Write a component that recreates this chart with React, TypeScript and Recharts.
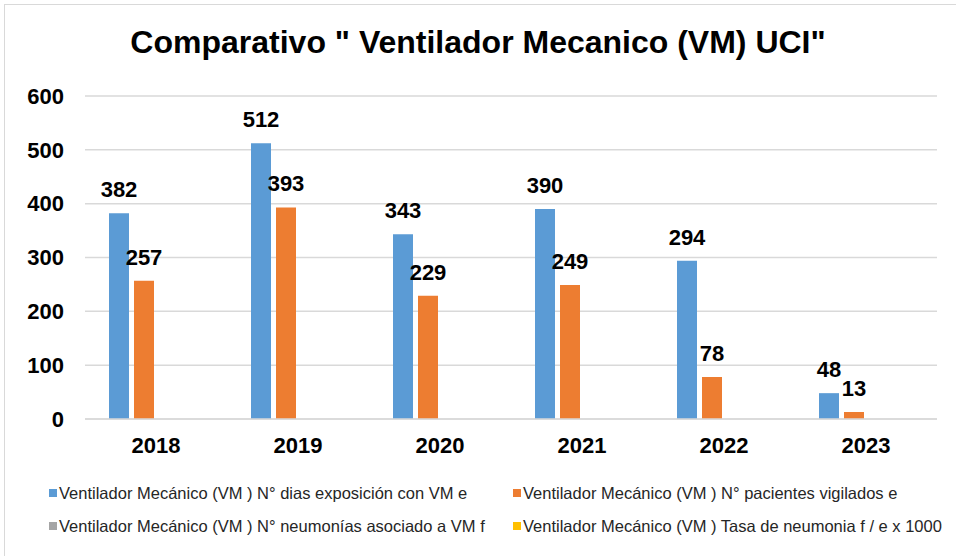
import React from 'react';
import { BarChart, Bar, XAxis, YAxis, CartesianGrid, LabelList } from 'recharts';

const years = ['2018', '2019', '2020', '2021', '2022', '2023'];
const diasExposicion = [382, 512, 343, 390, 294, 48];
const pacientesVigilados = [257, 393, 229, 249, 78, 13];
const neumonias = [0, 0, 0, 0, 0, 0];
const tasaNeumonia = [0, 0, 0, 0, 0, 0];
const yTicks = [0, 100, 200, 300, 400, 500, 600];

const seriesInfo = [
  { key: 'e', name: 'Ventilador Mecánico (VM ) N° dias exposición con VM e', color: '#5b9bd5' },
  { key: 'p', name: 'Ventilador Mecánico (VM ) N° pacientes vigilados e', color: '#ed7d31' },
  { key: 'n', name: 'Ventilador Mecánico (VM ) N° neumonías asociado a VM f', color: '#a5a5a5' },
  { key: 't', name: 'Ventilador Mecánico (VM ) Tasa de neumonia f / e x 1000', color: '#ffc000' },
];

const data = years.map((y, i) => ({
  year: y,
  e: diasExposicion[i],
  p: pacientesVigilados[i],
  n: neumonias[i],
  t: tasaNeumonia[i],
}));

const font = 'Arial, "Liberation Sans", sans-serif';
const labelProps = { position: 'top' as const, offset: 16, fill: '#000', fontSize: 22, fontWeight: 'bold', fontFamily: font };

// legend items laid out as 2 x 2 grid, like the spreadsheet export
const legendPos = [
  { left: 49, top: 483 },
  { left: 513, top: 483 },
  { left: 49, top: 516 },
  { left: 513, top: 516 },
];

const App: React.FC = () => {
  return (
    <div style={{ position: 'fixed', left: 0, top: 0, width: 956, height: 556, background: '#fff', overflow: 'hidden', fontFamily: font }}>
      <div style={{ position: 'absolute', left: 4, top: 4, width: 1000, height: 600, border: '1px solid #d9d9d9' }} />
      <div style={{ position: 'absolute', left: 0, width: 956, top: 20, textAlign: 'center', fontSize: 32, fontWeight: 'bold', color: '#000', lineHeight: '44px' }}>
        Comparativo " Ventilador Mecanico (VM) UCI"
      </div>
      <div style={{ position: 'absolute', left: 0, top: 0 }}>
        <BarChart
          width={956}
          height={556}
          data={data}
          margin={{ top: 96, right: 19, left: 0, bottom: 97 }}
          barSize={20}
          barGap={5}
        >
          <CartesianGrid vertical={false} stroke="#d9d9d9" strokeWidth={1.5} />
          <XAxis
            dataKey="year"
            axisLine={{ stroke: '#d9d9d9', strokeWidth: 1.5 }}
            tickLine={false}
            tickMargin={12}
            height={40}
            tick={{ fill: '#000', fontSize: 22, fontWeight: 'bold', fontFamily: font }}
          />
          <YAxis
            width={85}
            domain={[0, 600]}
            ticks={yTicks}
            axisLine={false}
            tickLine={false}
            tickMargin={15}
            tick={{ fill: '#000', fontSize: 22, fontWeight: 'bold', fontFamily: font }}
          />
          <Bar dataKey="e" fill={seriesInfo[0].color} isAnimationActive={false}>
            <LabelList dataKey="e" {...labelProps} />
          </Bar>
          <Bar dataKey="p" fill={seriesInfo[1].color} isAnimationActive={false}>
            <LabelList dataKey="p" {...labelProps} />
          </Bar>
          <Bar dataKey="n" fill={seriesInfo[2].color} isAnimationActive={false} />
          <Bar dataKey="t" fill={seriesInfo[3].color} isAnimationActive={false} />
        </BarChart>
      </div>
      {seriesInfo.map((s, i) => (
        <div key={s.key} style={{ position: 'absolute', left: legendPos[i].left, top: legendPos[i].top, height: 20, display: 'flex', alignItems: 'center', whiteSpace: 'nowrap' }}>
          <div style={{ width: 8, height: 8, background: s.color, marginRight: 2 }} />
          <div style={{ fontSize: 16.5, color: '#262626' }}>{s.name}</div>
        </div>
      ))}
    </div>
  );
};

export default App;
